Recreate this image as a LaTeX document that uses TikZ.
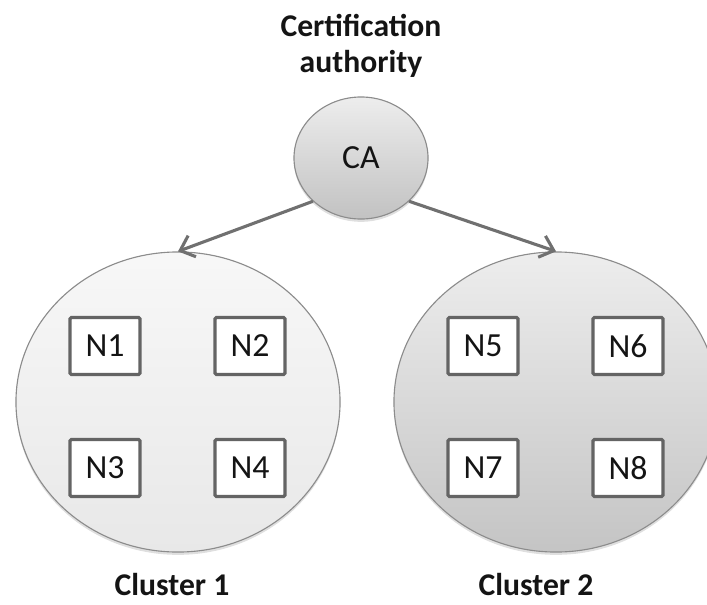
\documentclass[tikz,border=0pt]{standalone}
\usepackage{fontspec}
\setmainfont{Carlito}
\usetikzlibrary{shapes.geometric, arrows.meta, positioning, shadows}
\definecolor{linegray}{RGB}{112, 112, 112}
\definecolor{edgegray}{RGB}{140, 140, 140}
\definecolor{boxgray}{RGB}{100, 100, 100}
\definecolor{textdark}{RGB}{20, 20, 20}
\tikzstyle{ca_circle} = [ellipse, minimum width=3.35cm, minimum height=3.05cm, draw=edgegray, line width=0.8pt, top color=black!7, bottom color=black!24, drop shadow={shadow xshift=0pt, shadow yshift=-2pt, opacity=0.25}, font=\fontsize{24}{28}\selectfont, text=textdark]
\tikzstyle{cluster} = [ellipse, minimum width=8.1cm, minimum height=7.5cm, draw=edgegray, line width=0.8pt, drop shadow={shadow xshift=0pt, shadow yshift=-2pt, opacity=0.25}]
\tikzstyle{node_box} = [rectangle, rounded corners=1pt, minimum width=1.75cm, minimum height=1.425cm, draw=boxgray, line width=2.2pt, fill=white, font=\fontsize{24}{28}\selectfont, text=textdark]
\tikzstyle{arrow} = [line width=2.2pt, linegray, -{Straight Barb[length=9pt, width=16pt]}]
\tikzstyle{caption_text} = [font=\fontsize{22.5}{26}\selectfont\bfseries, text=textdark, align=center, inner sep=0pt]

\begin{document}
\begin{tikzpicture}[x=0.025cm, y=-0.025cm]
\useasboundingbox (0, 0) rectangle (707, 604);

% Certification authority
\node[caption_text] (title) at (361, 46) {Certification\\authority};
\node[ca_circle] (ca) at (361, 158) {CA};

% Clusters
\node[cluster, top color=black!3, bottom color=black!9] (c1) at (178, 402) {};
\node[cluster, top color=black!7, bottom color=black!23] (c2) at (556, 402) {};

% Nodes in cluster 1
\node[node_box] (n1) at (105, 346) {N1};
\node[node_box] (n2) at (250, 346) {N2};
\node[node_box] (n3) at (105, 468) {N3};
\node[node_box] (n4) at (250, 468) {N4};

% Nodes in cluster 2
\node[node_box] (n5) at (483, 346) {N5};
\node[node_box] (n6) at (628, 346) {N6};
\node[node_box] (n7) at (483, 468) {N7};
\node[node_box] (n8) at (628, 468) {N8};

% Arrows from CA to clusters
\draw[arrow] (ca.222) -- (c1.north);
\draw[arrow] (ca.318) -- (c2.north);

% Cluster names
\node[caption_text] (c1name) at (172, 585) {Cluster 1};
\node[caption_text] (c2name) at (536, 585) {Cluster 2};

\end{tikzpicture}
\end{document}
